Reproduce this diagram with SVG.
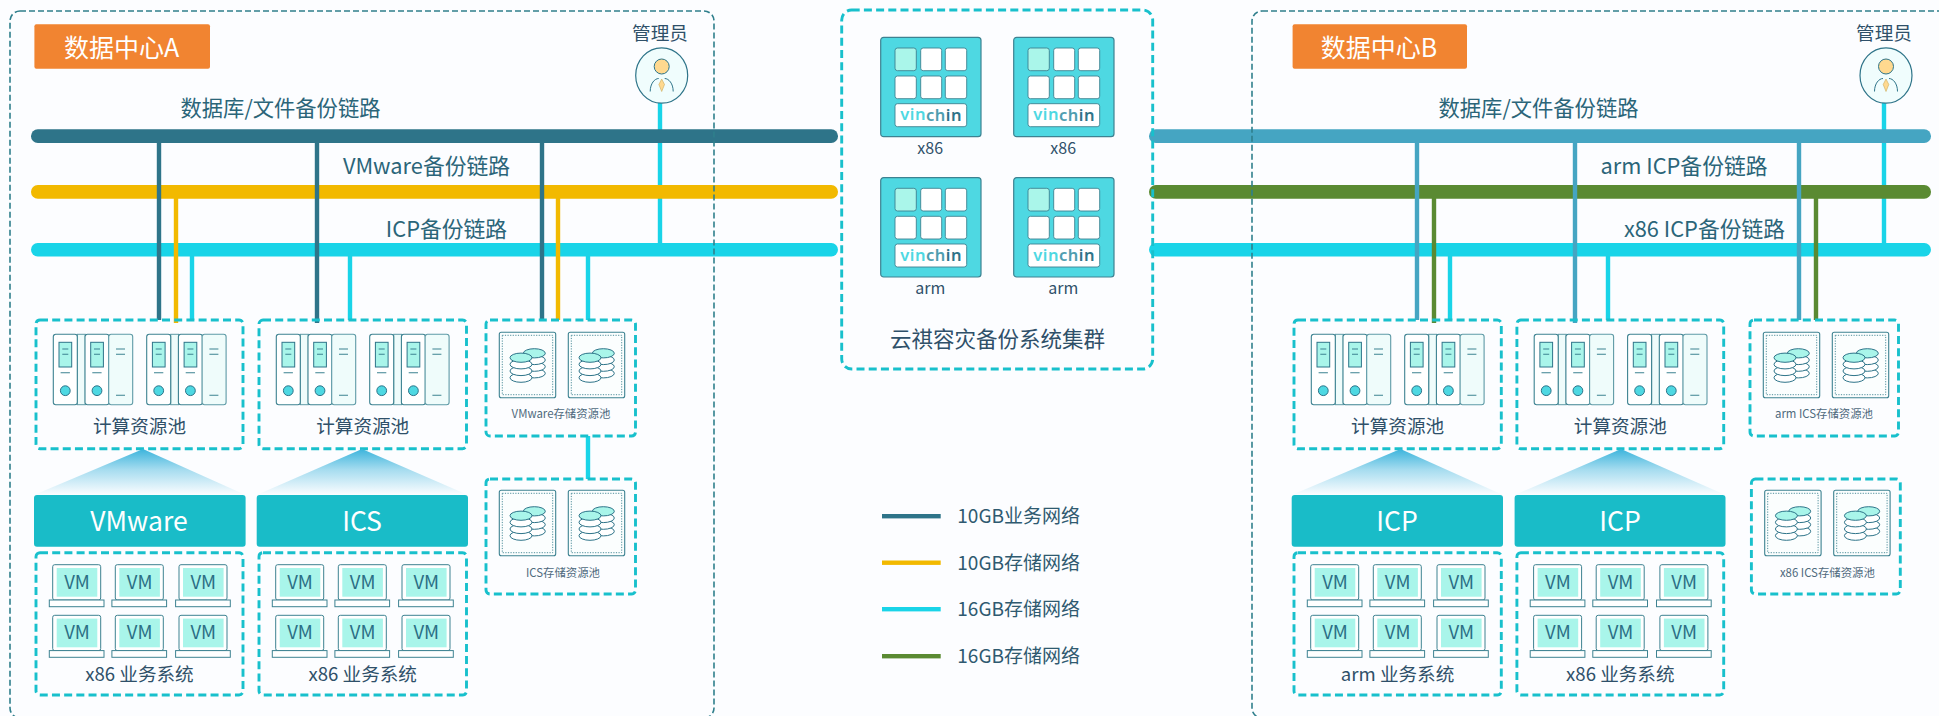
<svg xmlns="http://www.w3.org/2000/svg" xmlns:xlink="http://www.w3.org/1999/xlink" width="1939" height="716" viewBox="0 0 1939 716">
<style>
text{font-family:"Noto Sans CJK SC","Noto Sans",sans-serif;dominant-baseline:central;text-anchor:middle;fill:#2f5069;transform:translateY(-1.4px)}
.lnk{font-size:21.3px;fill:#2b6579}
.lnkl{font-size:21.8px;fill:#2b6579}
.tag{font-size:25px;fill:#fff}
.hdr{font-size:26.5px;fill:#fff}
.cap{font-size:18.6px}
.sm{font-size:11.4px;fill:#4f6a7d}
.vmt{font-size:18.5px;fill:#2b6e85}
.adm{font-size:18.6px}
.vin{font-family:"Noto Sans","DejaVu Sans",sans-serif;font-size:16.5px;font-weight:600;letter-spacing:.5px;fill:#4ed8e2}
.arch{font-size:16px}
.leg{font-size:19px;text-anchor:start;fill:#2f5a70}
.pool{fill:none;stroke:#18c0cc;stroke-width:2.9;stroke-dasharray:8 4.2}
.site{fill:none;stroke:#2f7f8c;stroke-width:1.6;stroke-dasharray:6 3}
.head{fill:#19bcc8}
.bar{stroke:none}
.v{stroke-width:4.4;fill:none}
.c1{stroke:#2e7489}.c2{stroke:#f2b900}.c3{stroke:#19d4e8}.c4{stroke:#5a8a32}.c5{stroke:#45a5c2}
.l{stroke:#3d8291;stroke-width:1.1;fill:#fff}
.t{stroke:#3d8291;stroke-width:1.1;fill:none}
</style>
<defs>
<linearGradient id="fade" x1="0" y1="0" x2="0" y2="1"><stop offset="0" stop-color="#3cb4dc"/><stop offset=".45" stop-color="#3cb4dc" stop-opacity=".45"/><stop offset="1" stop-color="#3cb4dc" stop-opacity="0"/></linearGradient>
<g id="blade"><rect class="l" width="24" height="70.4" rx="2.5"/><rect x="5.7" y="8" width="12.7" height="24.7" fill="#a9f5ea" stroke="#2e7489" stroke-width="1"/><path class="t" d="M9 14.7h6M9 20h6M7.3 38.4h9.3"/><circle cx="12" cy="56.4" r="4.9" fill="#4ed8e2" stroke="#2e7489" stroke-width="1"/></g>
<g id="bladeb"><rect width="24" height="70.4" rx="2.5" fill="#effcfb" stroke="#5e9aa6" stroke-width="1.1"/><path class="t" d="M7.3 14.7h9M7.3 20h9M7.3 61h9"/></g>
<g id="rack"><rect x="24" y="0" width="8" height="70.4" fill="#effcfb" stroke="#5e9aa6" stroke-width="1"/><use href="#blade"/><use href="#blade" x="31.7"/><use href="#bladeb" x="55.4"/></g>
<g id="servers"><use href="#rack" x="17.3" y="14.3"/><use href="#rack" x="110.7" y="14.3"/></g>
<g id="disc"><ellipse cx="0" cy="0" rx="11" ry="4.6" fill="#fff" stroke="#2e7489" stroke-width="1"/></g>
<g id="disctop"><ellipse cx="0" cy="0" rx="11" ry="4.6" fill="#a9f5ea" stroke="#2e7489" stroke-width="1"/></g>
<g id="stor"><rect width="56.4" height="65.4" rx="2" fill="#fbfefe" stroke="#3d8291" stroke-width="1.1"/><rect x="3" y="3" width="50.4" height="59.4" fill="none" stroke="#3d8291" stroke-width=".9" stroke-dasharray="1.2 1.4"/>
<use href="#disc" x="35" y="41"/><use href="#disc" x="35" y="34.4"/><use href="#disc" x="35" y="27.7"/><use href="#disctop" x="35" y="21"/>
<use href="#disc" x="21.7" y="45.4"/><use href="#disc" x="21.7" y="38.7"/><use href="#disc" x="21.7" y="32"/><use href="#disctop" x="21.7" y="25.4"/></g>
<g id="storpair"><use href="#stor" x="13.3" y="12.3"/><use href="#stor" x="82.3" y="12.3"/></g>
<g id="mon"><rect x="0" y="0" width="48" height="35.3" rx="2" fill="#fff" stroke="#3d8291" stroke-width="1"/><rect x="4" y="3.3" width="40.6" height="28.7" fill="#a9f5ea"/><rect x="-3.4" y="35.3" width="54.7" height="6.7" fill="#fff" stroke="#3d8291" stroke-width="1"/></g>
<g id="mons"><use href="#mon" x="16.7" y="12"/><use href="#mon" x="79.3" y="12"/><use href="#mon" x="143" y="12"/><use href="#mon" x="16.7" y="62.6"/><use href="#mon" x="79.3" y="62.6"/><use href="#mon" x="143" y="62.6"/></g>
<g id="vbox"><rect width="100.3" height="99.4" rx="3" fill="#4ed8e2" stroke="#3d8291" stroke-width="1.2"/>
<g fill="#fff" stroke="#3d8291" stroke-width=".9"><rect x="14.3" y="10.7" width="21.3" height="22.7" rx="2.5" fill="#aaf6ea"/><rect x="40" y="10.7" width="21" height="22.7" rx="2.5"/><rect x="64.6" y="10.7" width="21.4" height="22.7" rx="2.5"/><rect x="14.3" y="38.7" width="21.3" height="22.7" rx="2.5"/><rect x="40" y="38.7" width="21" height="22.7" rx="2.5"/><rect x="64.6" y="38.7" width="21.4" height="22.7" rx="2.5"/><rect x="14.3" y="66.4" width="71.7" height="23" rx="2.5"/></g></g>
<g id="person"><ellipse rx="26" ry="27.7" fill="#f0fdfd" stroke="#2e7489" stroke-width="1.2"/><circle cy="-9" r="7.5" fill="#ffd98f" stroke="#2e7489" stroke-width="1"/><path d="M-11.5 16C-11.5 8-7 3-3 3M11.5 16C11.5 8 7 3 3 3" fill="none" stroke="#2e7489" stroke-width="1"/><path d="M0 3.5L2.8 9L0 16L-2.8 9Z" fill="#ffd98f" stroke="#c9a95a" stroke-width=".6"/></g>
</defs>
<rect width="1939" height="716" fill="#fcfdff"/>

<g id="connectors">
<path class="v c3" d="M660 103V243M1884 103V243"/>
<rect class="bar" x="31" y="129.3" width="807" height="13.7" rx="6.8" fill="#2e7489"/>
<rect class="bar" x="31" y="185" width="807" height="13.7" rx="6.8" fill="#f2b900"/>
<rect class="bar" x="31" y="243" width="807" height="13.4" rx="6.7" fill="#19d4e8"/>
<rect class="bar" x="1149" y="129.3" width="782" height="13.7" rx="6.8" fill="#45a5c2"/>
<rect class="bar" x="1149" y="185" width="782" height="13.7" rx="6.8" fill="#5a8a32"/>
<rect class="bar" x="1149" y="243" width="782" height="13.4" rx="6.7" fill="#19d4e8"/>
<path class="v c3" d="M192 256V320M350 256V320M588 256V320M588 436V479M1450 256V320M1608 256V320"/>
<path class="v c2" d="M176 198V323M558 198V320"/>
<path class="v c1" d="M159 143V320M317 143V323M542 143V320"/>
<path class="v c5" d="M1417 143V320M1575 143V323M1799 143V320"/>
<path class="v c4" d="M1434 198V323M1816 198V320"/>
</g>

<g id="link-labels">
<text class="lnk" x="280.5" y="108">数据库/文件备份链路</text>
<text class="lnkl" x="426.5" y="166">VMware备份链路</text>
<text class="lnkl" x="446.5" y="229">ICP备份链路</text>
<text class="lnk" x="1538.5" y="108">数据库/文件备份链路</text>
<text class="lnkl" x="1684" y="166">arm ICP备份链路</text>
<text class="lnkl" x="1704.5" y="229">x86 ICP备份链路</text>
</g>

<g id="dc-a"><rect class="site" x="10" y="11" width="704" height="707" rx="10"/>
<rect x="34.4" y="24.3" width="175.6" height="44.4" rx="2" fill="#f18431"/><text class="tag" x="121.6" y="47.5">数据中心A</text></g>
<g id="admin-a"><text class="adm" x="660" y="33">管理员</text><use href="#person" transform="translate(661.7,75.5)"/></g>

<g id="compute-a1" transform="translate(36,320)"><rect class="pool" width="207" height="128.7" rx="4"/><use href="#servers"/><text class="cap" x="103.5" y="106">计算资源池</text></g>
<g id="compute-a2" transform="translate(259,320)"><rect class="pool" width="207.5" height="128.7" rx="4"/><use href="#servers"/><text class="cap" x="103.7" y="106">计算资源池</text></g>
<g id="tri-a"><polygon points="143,449 245.6,495 34,495" fill="url(#fade)"/><polygon points="362,449 468,495 256.7,495" fill="url(#fade)"/></g>
<g id="vmware"><rect class="head" x="34" y="495" width="211.6" height="51.7" rx="3"/><text class="hdr" x="139" y="521">VMware</text></g>
<g id="ics"><rect class="head" x="256.7" y="495" width="211.3" height="51.7" rx="3"/><text class="hdr" x="362" y="521">ICS</text></g>
<g id="vms-a1" transform="translate(36,552.7)"><rect class="pool" width="207" height="142.3" rx="4"/><use href="#mons"/>
<g><text class="vmt" x="41" y="29.6">VM</text><text class="vmt" x="103.6" y="29.6">VM</text><text class="vmt" x="167.3" y="29.6">VM</text><text class="vmt" x="41" y="80.2">VM</text><text class="vmt" x="103.6" y="80.2">VM</text><text class="vmt" x="167.3" y="80.2">VM</text></g>
<text class="cap" x="103.5" y="121.3">x86 业务系统</text></g>
<g id="vms-a2" transform="translate(259,552.7)"><rect class="pool" width="207.5" height="142.3" rx="4"/><use href="#mons"/>
<g><text class="vmt" x="41" y="29.6">VM</text><text class="vmt" x="103.6" y="29.6">VM</text><text class="vmt" x="167.3" y="29.6">VM</text><text class="vmt" x="41" y="80.2">VM</text><text class="vmt" x="103.6" y="80.2">VM</text><text class="vmt" x="167.3" y="80.2">VM</text></g>
<text class="cap" x="103.7" y="121.3">x86 业务系统</text></g>
<g id="storage-a1" transform="translate(486,320)"><rect class="pool" width="149.5" height="116" rx="4"/><use href="#storpair"/><text class="sm" x="75" y="94">VMware存储资源池</text></g>
<g id="storage-a2" transform="translate(486,479)"><rect class="pool" width="149.5" height="115" rx="4"/><use href="#storpair" y="-1"/><text class="sm" x="77" y="94">ICS存储资源池</text></g>

<g id="cluster"><rect class="pool" x="841.7" y="10" width="311" height="359" rx="10"/><text class="lnk" style="fill:#2f5069;font-size:21.5px" x="997.5" y="339">云祺容灾备份系统集群</text></g>
<g id="backup-1" transform="translate(880.7,37.3)"><use href="#vbox"/><text class="vin" x="50.5" y="78">vin<tspan fill="#4f9eb0">ch</tspan><tspan fill="#2e7489">in</tspan></text><text class="arch" x="49.5" y="111">x86</text></g>
<g id="backup-2" transform="translate(1013.7,37.3)"><use href="#vbox"/><text class="vin" x="50.5" y="78">vin<tspan fill="#4f9eb0">ch</tspan><tspan fill="#2e7489">in</tspan></text><text class="arch" x="49.5" y="111">x86</text></g>
<g id="backup-3" transform="translate(880.7,177.6)"><use href="#vbox"/><text class="vin" x="50.5" y="78">vin<tspan fill="#4f9eb0">ch</tspan><tspan fill="#2e7489">in</tspan></text><text class="arch" x="49.5" y="111">arm</text></g>
<g id="backup-4" transform="translate(1013.7,177.6)"><use href="#vbox"/><text class="vin" x="50.5" y="78">vin<tspan fill="#4f9eb0">ch</tspan><tspan fill="#2e7489">in</tspan></text><text class="arch" x="49.5" y="111">arm</text></g>

<g id="legend">
<rect x="882" y="514" width="58.7" height="4.4" fill="#2e7489"/><text class="leg" x="957.3" y="516">10GB业务网络</text>
<rect x="882" y="560.5" width="58.7" height="4.4" fill="#f2b900"/><text class="leg" x="957.3" y="562.7">10GB存储网络</text>
<rect x="882" y="607" width="58.7" height="4.4" fill="#19d4e8"/><text class="leg" x="957.3" y="609.3">16GB存储网络</text>
<rect x="882" y="654" width="58.7" height="4.4" fill="#5a8a32"/><text class="leg" x="957.3" y="656">16GB存储网络</text>
</g>

<g id="dc-b"><rect class="site" x="1252" y="11" width="720" height="707" rx="10"/>
<rect x="1292.6" y="24.3" width="174.4" height="44.4" rx="2" fill="#f18431"/><text class="tag" x="1379" y="47.5">数据中心B</text></g>
<g id="admin-b"><text class="adm" x="1884" y="33">管理员</text><use href="#person" transform="translate(1886,75.5)"/></g>

<g id="compute-b1" transform="translate(1294,320)"><rect class="pool" width="207.3" height="128.7" rx="4"/><use href="#servers"/><text class="cap" x="103.6" y="106">计算资源池</text></g>
<g id="compute-b2" transform="translate(1516.9,320)"><rect class="pool" width="206.8" height="128.7" rx="4"/><use href="#servers"/><text class="cap" x="103.4" y="106">计算资源池</text></g>
<g id="tri-b"><polygon points="1400.5,449 1503,495 1291.7,495" fill="url(#fade)"/><polygon points="1621,449 1725.5,495 1514.6,495" fill="url(#fade)"/></g>
<g id="icp-1"><rect class="head" x="1291.7" y="495" width="211.3" height="51.7" rx="3"/><text class="hdr" x="1397" y="521">ICP</text></g>
<g id="icp-2"><rect class="head" x="1514.6" y="495" width="210.9" height="51.7" rx="3"/><text class="hdr" x="1620" y="521">ICP</text></g>
<g id="vms-b1" transform="translate(1294,552.7)"><rect class="pool" width="207.3" height="142.3" rx="4"/><use href="#mons"/>
<g><text class="vmt" x="41" y="29.6">VM</text><text class="vmt" x="103.6" y="29.6">VM</text><text class="vmt" x="167.3" y="29.6">VM</text><text class="vmt" x="41" y="80.2">VM</text><text class="vmt" x="103.6" y="80.2">VM</text><text class="vmt" x="167.3" y="80.2">VM</text></g>
<text class="cap" x="103.6" y="121.3">arm 业务系统</text></g>
<g id="vms-b2" transform="translate(1516.9,552.7)"><rect class="pool" width="206.8" height="142.3" rx="4"/><use href="#mons"/>
<g><text class="vmt" x="41" y="29.6">VM</text><text class="vmt" x="103.6" y="29.6">VM</text><text class="vmt" x="167.3" y="29.6">VM</text><text class="vmt" x="41" y="80.2">VM</text><text class="vmt" x="103.6" y="80.2">VM</text><text class="vmt" x="167.3" y="80.2">VM</text></g>
<text class="cap" x="103.4" y="121.3">x86 业务系统</text></g>
<g id="storage-b1" transform="translate(1750,320)"><rect class="pool" width="148.5" height="116" rx="4"/><use href="#storpair"/><text class="sm" x="74" y="94">arm ICS存储资源池</text></g>
<g id="storage-b2" transform="translate(1751.4,479)"><rect class="pool" width="148.9" height="115" rx="4"/><use href="#storpair" y="-1"/><text class="sm" x="76" y="94">x86 ICS存储资源池</text></g>
</svg>
